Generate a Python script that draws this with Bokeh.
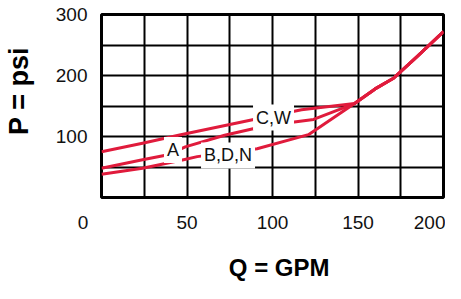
from bokeh.plotting import figure
from bokeh.models import Range1d, FixedTicker, Label
from bokeh.embed import file_html
from bokeh.resources import INLINE

# ---- data (Q = GPM, P = psi) ----
q_common = [148, 160, 171, 185, 200]
p_common = [154, 178, 196, 232, 272]

q_cw = [0, 24, 45, 89, 117]
p_cw = [75, 89, 102, 128, 144]

q_a = [0, 24, 39, 49, 72, 97, 124]
p_a = [48, 62, 70, 83, 102, 118, 128]

q_bdn = [0, 24, 48, 56, 91, 121]
p_bdn = [38, 48, 62, 67, 80, 103]

curve_labels = ["C,W", "A", "B,D,N"]
label_q = [100.6, 41.8, 74.0]
label_p = [131, 78, 69]

x_ticks = [0, 50, 100, 150, 200]
y_ticks = [100, 200, 300]
x_grid = [25, 50, 75, 100, 125, 150, 175]
y_grid = [50, 100, 150, 200, 250]
x_title = "Q = GPM"
y_title = "P = psi"

RED = "#e01b3c"
FONT = "Liberation Sans"
INK = "#111111"
NB = "\u00a0"

W, H = 445, 283
p = figure(width=W, height=H, output_backend="svg", toolbar_location=None,
           x_range=Range1d(0, 200), y_range=Range1d(0, 300))
p.min_border_left = 101
p.min_border_right = 2
p.min_border_top = 14
p.min_border_bottom = 81
p.background_fill_color = "white"
p.border_fill_color = "white"
p.outline_line_color = "black"
p.outline_line_width = 3

p.xaxis.ticker = FixedTicker(ticks=x_ticks)
p.yaxis.ticker = FixedTicker(ticks=y_ticks)
p.xgrid.ticker = FixedTicker(ticks=x_grid)
p.ygrid.ticker = FixedTicker(ticks=y_grid)
for g in (p.xgrid, p.ygrid):
    g.grid_line_color = "black"
    g.grid_line_width = 2
    g.grid_line_alpha = 1.0

for ax in (p.xaxis, p.yaxis):
    ax.axis_line_color = None
    ax.major_tick_line_color = None
    ax.minor_tick_line_color = None
    ax.major_tick_out = 0
    ax.major_tick_in = 0
    ax.major_label_text_font = FONT
    ax.major_label_text_font_size = "19px"
    ax.major_label_text_color = INK
    ax.axis_label_text_font = FONT
    ax.axis_label_text_font_style = "bold"
    ax.axis_label_text_color = "black"
p.yaxis.major_label_standoff = 14
p.xaxis.major_label_standoff = 14

# the origin "0" sits left of the frame corner
p.xaxis.major_label_overrides = {0: "0" + NB * 7}

p.xaxis.axis_label = NB * 2 + x_title
p.xaxis.axis_label_text_font_size = "24px"
p.xaxis.axis_label_standoff = 18

p.yaxis.axis_label = NB * 4 + y_title
p.yaxis.axis_label_text_font_size = "27px"
p.yaxis.axis_label_standoff = 19

# curves: each low-flow branch joins the common high-flow line
for qs, ps in ((q_cw, p_cw), (q_a, p_a), (q_bdn, p_bdn)):
    p.line(qs + q_common, ps + p_common, line_color=RED, line_width=3,
           line_join="round")

for txt, lq, lp in zip(curve_labels, label_q, label_p):
    p.add_layout(Label(x=lq, y=lp, text=txt, text_align="center",
                       text_baseline="middle", text_font=FONT,
                       text_font_size="18px", text_color=INK,
                       background_fill_color="white", padding=3))

open("out.html", "w").write(file_html(p, INLINE))
